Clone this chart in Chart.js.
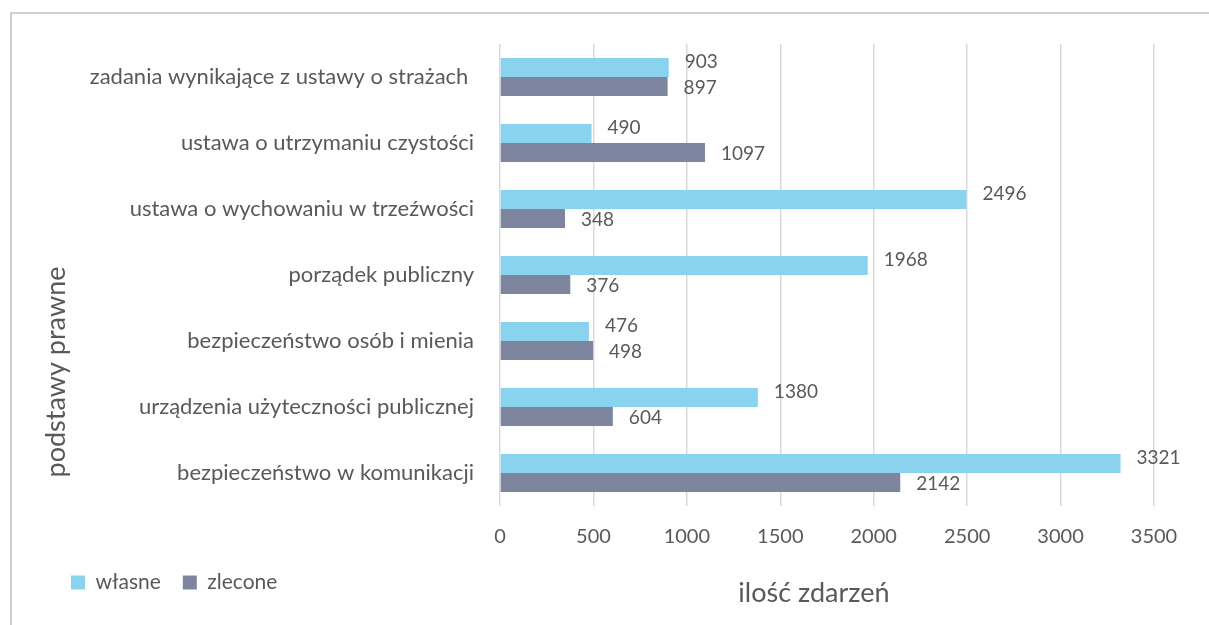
<!DOCTYPE html>
<html>
<head>
<meta charset="utf-8">
<script src="https://cdn.jsdelivr.net/npm/chart.js@4.4.1/dist/chart.umd.min.js"></script>
<style>
  html, body { margin: 0; padding: 0; background: #ffffff; overflow: hidden; }
  #frame { position: absolute; left: 10px; top: 12px; width: 1400px; height: 800px;
           border-top: 2px solid #d0d0d0; border-left: 2px solid #d0d0d0; }
  #wrap { position: absolute; left: 0; top: 0; width: 1209px; height: 625px; }
</style>
</head>
<body>
<div id="frame"></div>
<div id="wrap"><canvas id="c" width="1209" height="625"></canvas></div>
<script>
const categories = [
  'zadania wynikające z ustawy o strażach ',
  'ustawa o utrzymaniu czystości',
  'ustawa o wychowaniu w trzeźwości',
  'porządek publiczny',
  'bezpieczeństwo osób i mienia',
  'urządzenia użyteczności publicznej',
  'bezpieczeństwo w komunikacji'
];
const seriesNames = ['własne', 'zlecone'];
const wlasne = [903, 490, 2496, 1968, 476, 1380, 3321];
const zlecone = [897, 1097, 348, 376, 498, 604, 2142];
const xTitle = 'ilość zdarzeń';
const yTitle = 'podstawy prawne';

const FONT = 'Lato, "Open Sans", sans-serif';
const TEXT = '#595959';

const valueLabels = {
  id: 'valueLabels',
  afterDatasetsDraw(chart) {
    const ctx = chart.ctx;
    ctx.save();
    ctx.font = '19px ' + FONT;
    ctx.fillStyle = TEXT;
    ctx.textAlign = 'left';
    ctx.textBaseline = 'middle';
    chart.data.datasets.forEach((ds, di) => {
      const meta = chart.getDatasetMeta(di);
      const dy = di === 0 ? -6 : 1;
      meta.data.forEach((el, i) => {
        ctx.fillText(String(ds.data[i]), el.x + 16, el.y + dy);
      });
    });
    ctx.restore();
  }
};

const axisTitles = {
  id: 'axisTitles',
  afterDraw(chart) {
    const ctx = chart.ctx;
    ctx.save();
    ctx.fillStyle = TEXT;
    ctx.font = '27px ' + FONT;
    ctx.textAlign = 'center';
    ctx.textBaseline = 'alphabetic';
    ctx.fillText(xTitle, 814, 602);
    ctx.translate(65, 372);
    ctx.rotate(-Math.PI / 2);
    ctx.fillText(yTitle, 0, 0);
    ctx.restore();
  }
};

new Chart(document.getElementById('c'), {
  type: 'bar',
  data: {
    labels: categories,
    datasets: [
      { label: seriesNames[0], data: wlasne, backgroundColor: '#89d3ef',
        barPercentage: 1, categoryPercentage: 0.576 },
      { label: seriesNames[1], data: zlecone, backgroundColor: '#7e859e',
        barPercentage: 1, categoryPercentage: 0.576 }
    ]
  },
  options: {
    indexAxis: 'y',
    responsive: false,
    animation: false,
    layout: { padding: { left: 49, right: 55, top: 44, bottom: 22 } },
    plugins: {
      tooltip: { enabled: false },
      legend: {
        position: 'bottom',
        align: 'start',
        labels: {
          boxWidth: 14, boxHeight: 14, padding: 22,
          color: TEXT, font: { family: FONT, size: 21 }
        }
      }
    },
    scales: {
      x: {
        min: 0, max: 3500,
        ticks: { stepSize: 500, color: TEXT, font: { family: FONT, size: 20 }, padding: 19,
                 callback: (v) => String(v) },
        grid: { color: '#d9d9d9', lineWidth: 1.5, drawTicks: false },
        border: { display: false },
        afterFit(s) { s.height = 44; }
      },
      y: {
        ticks: { color: TEXT, font: { family: FONT, size: 22 }, padding: 26 },
        grid: { display: false, drawTicks: false },
        border: { display: false },
        afterFit(s) { s.width = 451; }
      }
    }
  },
  plugins: [valueLabels, axisTitles]
});
</script>
</body>
</html>
